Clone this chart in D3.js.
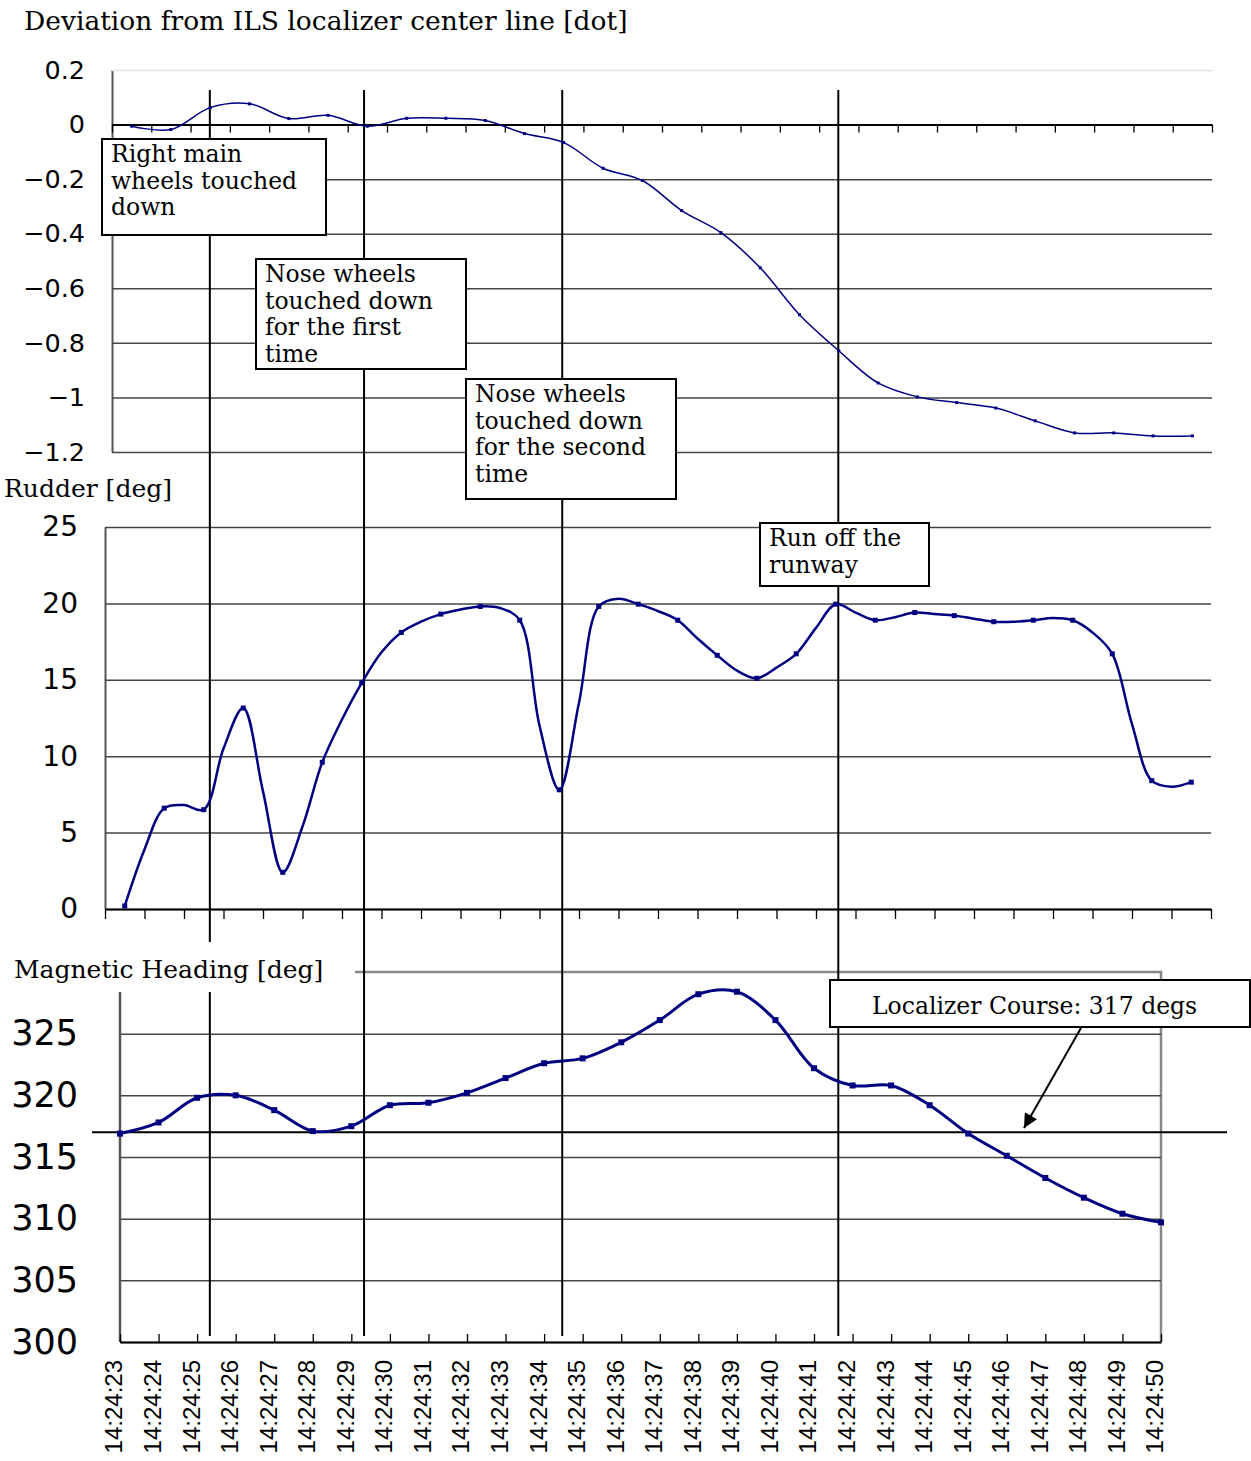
<!DOCTYPE html>
<html>
<head>
<meta charset="utf-8">
<script src="https://cdn.jsdelivr.net/npm/d3@7"></script>
<style>
  body { margin: 0; background: #fff; }
  svg { display: block; }
  .serif { font-family: 'DejaVu Serif', serif; font-size: 23.5px; fill: #000; }
  .num { font-family: 'DejaVu Sans', sans-serif; fill: #000; }
</style>
</head>
<body>
<svg width="1251" height="1461"></svg>
<script>
// time axis (one label per second)
const timeLabels = ['14:24:23', '14:24:24', '14:24:25', '14:24:26', '14:24:27', '14:24:28', '14:24:29',
  '14:24:30', '14:24:31', '14:24:32', '14:24:33', '14:24:34', '14:24:35', '14:24:36', '14:24:37',
  '14:24:38', '14:24:39', '14:24:40', '14:24:41', '14:24:42', '14:24:43', '14:24:44', '14:24:45',
  '14:24:46', '14:24:47', '14:24:48', '14:24:49', '14:24:50'];

// deviation from localizer [dot], one value per second
const deviation = [-0.006, -0.018, 0.062, 0.076, 0.022, 0.034, -0.006, 0.023, 0.023, 0.015,
  -0.033, -0.066, -0.16, -0.205, -0.315, -0.396, -0.525, -0.697, -0.829, -0.947,
  -0.998, -1.019, -1.039, -1.086, -1.13, -1.13, -1.141, -1.141];

// rudder [deg], one value per half second
const rudder = [0.2, 3.9, 6.6, 6.8, 6.5, 10.5, 13.15, 7.7, 2.4, 5.4,
  9.6, 12.4, 14.8, 16.8, 18.1, 18.8, 19.3, 19.6, 19.8, 19.7,
  18.9, 12.0, 7.8, 13.5, 19.8, 20.3, 19.95, 19.5, 18.9, 17.7,
  16.6, 15.6, 15.1, 15.8, 16.7, 18.4, 19.95, 19.4, 18.9, 19.1,
  19.4, 19.3, 19.2, 19.0, 18.8, 18.8, 18.9, 19.05, 18.9, 18.1,
  16.7, 12.1, 8.4, 8.0, 8.3];

// magnetic heading [deg], one value per second
const heading = [316.9, 317.8, 319.8, 320.0, 318.8, 317.1, 317.5, 319.2, 319.4, 320.2,
  321.4, 322.6, 323.0, 324.3, 326.1, 328.2, 328.4, 326.1, 322.2, 320.8,
  320.8, 319.2, 316.9, 315.1, 313.3, 311.7, 310.4, 309.7];

const devTicks = [0.2, 0, -0.2, -0.4, -0.6, -0.8, -1, -1.2];
const rudderTicks = [25, 20, 15, 10, 5, 0];
const headingTicks = [325, 320, 315, 310, 305, 300];
const localizerCourse = 317;

// events, seconds after 14:24:23
const eventTimes = [2.33, 6.33, 11.47, 18.63];
const noteTexts = [
  ['Right main', 'wheels touched', 'down'],
  ['Nose wheels', 'touched down', 'for the first', 'time'],
  ['Nose wheels', 'touched down', 'for the second', 'time'],
  ['Run off the', 'runway']
];

const svg = d3.select('svg');

// scales
const xTop = d3.scaleLinear().domain([-0.5, 27.5]).range([112, 1212]);
const yTop = d3.scaleLinear().domain([-1.2, 0.2]).range([452, 70]);
const xMid = d3.scaleLinear().domain([-0.5, 27.5]).range([105, 1211]);
const yMid = d3.scaleLinear().domain([0, 25]).range([909, 527]);
const xBot = d3.scaleLinear().domain([0, 27]).range([120, 1161]);
const yBot = d3.scaleLinear().domain([300, 330]).range([1342, 972]);

const fmt = d => String(+d.toFixed(1)).replace('-', '\u2212');
const navy = '#000080';

let utils = {};

utils.gridAxis = (y, x0, x1, ticks, size, pad) => {
  const g = svg.append('g')
    .attr('transform', `translate(${x0},0)`)
    .call(d3.axisLeft(y).tickValues(ticks).tickSize(-(x1 - x0)).tickSizeOuter(0)
      .tickPadding(pad).tickFormat(fmt));
  g.select('.domain').attr('stroke', '#555').attr('stroke-width', 2);
  g.selectAll('.tick line').attr('stroke', '#444').attr('stroke-width', 1.5);
  g.selectAll('.tick text').attr('class', 'num').style('font-size', size + 'px');
  return g;
};

utils.timeTicks = (x, y, values, size) => {
  const g = svg.append('g')
    .attr('transform', `translate(0,${y})`)
    .call(d3.axisBottom(x).tickValues(values).tickSize(size).tickSizeOuter(0).tickFormat(''));
  g.select('.domain').attr('stroke', '#000').attr('stroke-width', 2);
  g.selectAll('.tick line').attr('stroke', '#000').attr('stroke-width', 1.3);
  return g;
};

utils.series = (data, x, y, width, mark, every) => {
  const line = d3.line().x((d, i) => x(i / every)).y(d => y(d)).curve(d3.curveCatmullRom);
  svg.append('path').datum(data)
    .attr('d', line)
    .attr('fill', 'none').attr('stroke', navy).attr('stroke-width', width);
  svg.append('g').selectAll('rect')
    .data(data.filter((d, i) => i % every == 0))
    .enter().append('rect')
      .attr('x', (d, i) => x(i) - mark / 2)
      .attr('y', d => y(d) - mark / 2)
      .attr('width', mark).attr('height', mark)
      .attr('fill', navy);
};

utils.note = (lines, x, y, w, h) => {
  svg.append('rect').attr('x', x).attr('y', y).attr('width', w).attr('height', h)
    .attr('fill', '#fff').attr('stroke', '#000').attr('stroke-width', 2);
  const t = svg.append('text').attr('class', 'serif');
  lines.forEach((s, i) => {
    t.append('tspan').attr('x', x + 9).attr('y', y + 23 + i * 26.5).text(s);
  });
};

// ---- top panel: localizer deviation
svg.append('text').attr('class', 'serif').attr('x', 24).attr('y', 30)
  .style('font-size', '26.5px').text('Deviation from ILS localizer center line [dot]');
const gTop = utils.gridAxis(yTop, 112, 1212, devTicks, 25.5, 27);
gTop.selectAll('.tick line').filter(d => d == 0.2).attr('stroke', '#e4e4e4');
utils.timeTicks(xTop, yTop(0), d3.range(-0.5, 28, 1), 8);

// ---- middle panel: rudder
svg.append('text').attr('class', 'serif').attr('x', 4).attr('y', 497)
  .style('font-size', '25px').text('Rudder [deg]');
utils.gridAxis(yMid, 105, 1211, rudderTicks, 28, 27);
utils.timeTicks(xMid, yMid(0), d3.range(-0.5, 28, 1), 10);

// ---- bottom panel: magnetic heading
svg.append('text').attr('class', 'serif').attr('x', 14).attr('y', 978)
  .style('font-size', '25px').text('Magnetic Heading [deg]');
svg.append('path')
  .attr('d', `M355,${yBot(330)}H${xBot(27)}V${yBot(300)}`)
  .attr('fill', 'none').attr('stroke', '#888').attr('stroke-width', 2.5);
const gBot = utils.gridAxis(yBot, 120, 1161, headingTicks, 35, 42);
gBot.select('.domain').remove();
svg.append('line').attr('x1', 120).attr('x2', 120).attr('y1', 992).attr('y2', yBot(300))
  .attr('stroke', '#555').attr('stroke-width', 2.5);
utils.timeTicks(xBot, yBot(300), d3.range(0, 28), -8);

svg.append('g').selectAll('text')
  .data(timeLabels)
  .enter().append('text')
    .attr('class', 'num')
    .style('font-family', "'Liberation Sans', Arial, sans-serif")
    .style('font-size', '24px')
    .attr('text-anchor', 'end')
    .attr('dy', '0.35em')
    .attr('transform', (d, i) => `translate(${xBot(i) - 6},1360) rotate(-90)`)
    .text(d => d);

// localizer course line
svg.append('line')
  .attr('x1', 92).attr('x2', 1227)
  .attr('y1', yBot(localizerCourse)).attr('y2', yBot(localizerCourse))
  .attr('stroke', '#000').attr('stroke-width', 2);

// event lines
eventTimes.forEach((t, i) => {
  const segs = i == 0 ? [[90, 942], [992, 1336]] : [[90, 1336]];
  segs.forEach(s => {
    svg.append('line').attr('x1', xBot(t)).attr('x2', xBot(t)).attr('y1', s[0]).attr('y2', s[1])
      .attr('stroke', '#000').attr('stroke-width', 2);
  });
});

// data
utils.series(deviation, xTop, yTop, 1.5, 3, 1);
utils.series(rudder, xMid, yMid, 2.5, 5, 2);
utils.series(heading, xBot, yBot, 3, 6, 1);

// annotations
utils.note(noteTexts[0], 102, 139, 224, 96);
utils.note(noteTexts[1], 256, 259, 210, 110);
utils.note(noteTexts[2], 466, 379, 210, 120);
utils.note(noteTexts[3], 760, 523, 169, 63);

svg.append('defs').append('marker')
  .attr('id', 'arrow').attr('viewBox', '0 0 10 10')
  .attr('refX', 10).attr('refY', 5)
  .attr('markerWidth', 16).attr('markerHeight', 14).attr('markerUnits', 'userSpaceOnUse')
  .attr('orient', 'auto')
  .append('path').attr('d', 'M0,0L10,5L0,10Z').attr('fill', '#000');
svg.append('line')
  .attr('x1', 1081).attr('y1', 1028).attr('x2', 1024).attr('y2', 1128)
  .attr('stroke', '#000').attr('stroke-width', 2).attr('marker-end', 'url(#arrow)');
svg.append('rect').attr('x', 830).attr('y', 980).attr('width', 420).attr('height', 47)
  .attr('fill', '#fff').attr('stroke', '#000').attr('stroke-width', 2);
svg.append('text').attr('class', 'serif').attr('x', 872).attr('y', 1014)
  .text('Localizer Course: 317 degs');
</script>
</body>
</html>
